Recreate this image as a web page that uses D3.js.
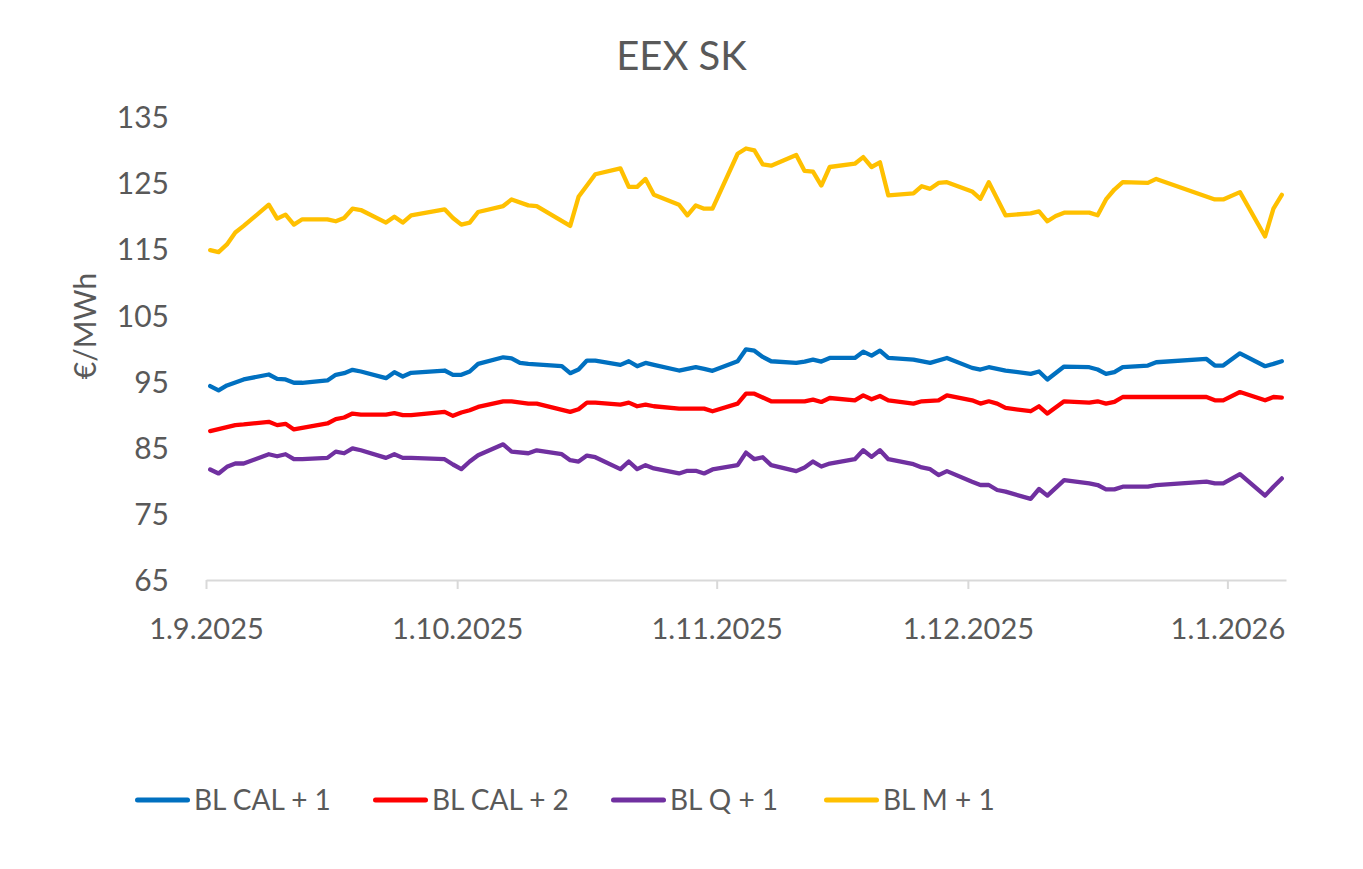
<!DOCTYPE html>
<html>
<head>
<meta charset="utf-8">
<script src="https://cdn.jsdelivr.net/npm/d3@7"></script>
<style>
  html, body { margin: 0; padding: 0; background: #fff; }
  svg text { font-family: Lato, "Open Sans", sans-serif; fill: #595959; }
</style>
</head>
<body>
<svg id="chart" width="1363" height="869"></svg>
<script>
const title = "EEX SK";
const yTitle = "€/MWh";
const yTicks = [65, 75, 85, 95, 105, 115, 125, 135];
const xTickDates = ["2025-09-01", "2025-10-01", "2025-11-01", "2025-12-01", "2026-01-01"];
const xDomain = ["2025-09-01", "2026-01-08"];
const seriesNames = ["BL CAL + 1", "BL CAL + 2", "BL Q + 1", "BL M + 1"];
const seriesColors = ["#0070C0", "#FF0000", "#7030A0", "#FFC000"];

const blCal1 = [
  ["2025-09-01",94.3],["2025-09-02",93.65],["2025-09-03",94.4],["2025-09-05",95.3],
  ["2025-09-08",96.05],["2025-09-09",95.4],["2025-09-10",95.3],["2025-09-11",94.8],["2025-09-12",94.8],
  ["2025-09-15",95.15],["2025-09-16",96.0],["2025-09-17",96.25],["2025-09-18",96.75],["2025-09-19",96.5],
  ["2025-09-22",95.5],["2025-09-23",96.4],["2025-09-24",95.75],["2025-09-25",96.3],
  ["2025-09-29",96.65],["2025-09-30",96.0],["2025-10-01",96.0],["2025-10-02",96.5],["2025-10-03",97.65],
  ["2025-10-06",98.65],["2025-10-07",98.5],["2025-10-08",97.8],["2025-10-09",97.65],
  ["2025-10-13",97.3],["2025-10-14",96.25],["2025-10-15",96.8],["2025-10-16",98.15],["2025-10-17",98.15],
  ["2025-10-20",97.5],["2025-10-21",98.05],["2025-10-22",97.3],["2025-10-23",97.8],["2025-10-24",97.5],
  ["2025-10-27",96.65],["2025-10-29",97.15],["2025-10-30",96.9],["2025-10-31",96.6],
  ["2025-11-03",98.05],["2025-11-04",99.85],["2025-11-05",99.65],["2025-11-06",98.7],["2025-11-07",98.05],
  ["2025-11-10",97.8],["2025-11-11",98.0],["2025-11-12",98.3],["2025-11-13",98.0],["2025-11-14",98.55],
  ["2025-11-17",98.55],["2025-11-18",99.5],["2025-11-19",98.9],["2025-11-20",99.65],["2025-11-21",98.55],
  ["2025-11-24",98.3],["2025-11-26",97.8],["2025-11-28",98.55],
  ["2025-12-01",97.05],["2025-12-02",96.8],["2025-12-03",97.15],["2025-12-05",96.65],
  ["2025-12-08",96.15],["2025-12-09",96.5],["2025-12-10",95.3],["2025-12-12",97.25],
  ["2025-12-15",97.15],["2025-12-16",96.8],["2025-12-17",96.15],["2025-12-18",96.4],["2025-12-19",97.15],
  ["2025-12-22",97.4],["2025-12-23",97.9],["2025-12-29",98.4],["2025-12-30",97.4],["2025-12-31",97.4],
  ["2026-01-02",99.25],["2026-01-05",97.3],["2026-01-06",97.65],["2026-01-07",98.05]
];

const blCal2 = [
  ["2025-09-01",87.5],["2025-09-04",88.4],["2025-09-05",88.5],
  ["2025-09-08",88.9],["2025-09-09",88.4],["2025-09-10",88.6],["2025-09-11",87.75],
  ["2025-09-15",88.65],["2025-09-16",89.3],["2025-09-17",89.55],["2025-09-18",90.15],["2025-09-19",90.0],
  ["2025-09-22",90.0],["2025-09-23",90.2],["2025-09-24",89.9],["2025-09-25",89.9],
  ["2025-09-29",90.4],["2025-09-30",89.8],["2025-10-01",90.3],["2025-10-02",90.65],["2025-10-03",91.15],
  ["2025-10-06",92.0],["2025-10-07",92.0],["2025-10-09",91.65],["2025-10-10",91.65],
  ["2025-10-14",90.4],["2025-10-15",90.8],["2025-10-16",91.8],["2025-10-17",91.8],
  ["2025-10-20",91.5],["2025-10-21",91.8],["2025-10-22",91.25],["2025-10-23",91.5],["2025-10-24",91.25],
  ["2025-10-27",90.9],["2025-10-30",90.9],["2025-10-31",90.5],
  ["2025-11-03",91.65],["2025-11-04",93.15],["2025-11-05",93.15],["2025-11-07",92.0],
  ["2025-11-11",92.0],["2025-11-12",92.25],["2025-11-13",91.9],["2025-11-14",92.5],
  ["2025-11-17",92.15],["2025-11-18",92.9],["2025-11-19",92.3],["2025-11-20",92.8],["2025-11-21",92.15],
  ["2025-11-24",91.65],["2025-11-25",92.0],["2025-11-27",92.15],["2025-11-28",92.9],
  ["2025-12-01",92.15],["2025-12-02",91.65],["2025-12-03",92.0],["2025-12-04",91.65],["2025-12-05",91.0],
  ["2025-12-08",90.5],["2025-12-09",91.25],["2025-12-10",90.15],["2025-12-12",92.0],
  ["2025-12-15",91.8],["2025-12-16",92.0],["2025-12-17",91.65],["2025-12-18",91.9],["2025-12-19",92.65],
  ["2025-12-29",92.65],["2025-12-30",92.15],["2025-12-31",92.15],
  ["2026-01-02",93.4],["2026-01-05",92.15],["2026-01-06",92.65],["2026-01-07",92.55]
];

const blQ1 = [
  ["2025-09-01",81.7],["2025-09-02",81.1],["2025-09-03",82.1],["2025-09-04",82.6],["2025-09-05",82.6],
  ["2025-09-08",84.0],["2025-09-09",83.7],["2025-09-10",84.0],["2025-09-11",83.25],["2025-09-12",83.25],
  ["2025-09-15",83.45],["2025-09-16",84.4],["2025-09-17",84.15],["2025-09-18",84.9],["2025-09-19",84.6],
  ["2025-09-22",83.45],["2025-09-23",84.0],["2025-09-24",83.45],["2025-09-25",83.45],
  ["2025-09-29",83.25],["2025-09-30",82.45],["2025-10-01",81.75],["2025-10-02",82.9],["2025-10-03",83.85],
  ["2025-10-06",85.5],["2025-10-07",84.4],["2025-10-09",84.15],["2025-10-10",84.6],
  ["2025-10-13",84.0],["2025-10-14",83.1],["2025-10-15",82.9],["2025-10-16",83.8],["2025-10-17",83.55],
  ["2025-10-20",81.75],["2025-10-21",82.9],["2025-10-22",81.75],["2025-10-23",82.35],["2025-10-24",81.85],
  ["2025-10-27",81.1],["2025-10-28",81.5],["2025-10-29",81.5],["2025-10-30",81.1],["2025-10-31",81.7],
  ["2025-11-03",82.35],["2025-11-04",84.25],["2025-11-05",83.25],["2025-11-06",83.55],["2025-11-07",82.35],
  ["2025-11-10",81.45],["2025-11-11",82.0],["2025-11-12",82.9],["2025-11-13",82.15],["2025-11-14",82.6],
  ["2025-11-17",83.25],["2025-11-18",84.6],["2025-11-19",83.6],["2025-11-20",84.6],["2025-11-21",83.25],
  ["2025-11-24",82.5],["2025-11-25",82.0],["2025-11-26",81.75],["2025-11-27",80.85],["2025-11-28",81.45],
  ["2025-12-01",79.85],["2025-12-02",79.35],["2025-12-03",79.35],["2025-12-04",78.6],["2025-12-05",78.35],
  ["2025-12-08",77.25],["2025-12-09",78.75],["2025-12-10",77.75],["2025-12-12",80.1],
  ["2025-12-15",79.6],["2025-12-16",79.35],["2025-12-17",78.7],["2025-12-18",78.7],["2025-12-19",79.1],
  ["2025-12-22",79.1],["2025-12-23",79.35],["2025-12-29",79.85],["2025-12-30",79.6],["2025-12-31",79.6],
  ["2026-01-02",81.0],["2026-01-05",77.75],["2026-01-06",79.1],["2026-01-07",80.35]
];

const blM1 = [
  ["2025-09-01",114.85],["2025-09-02",114.55],["2025-09-03",115.7],["2025-09-04",117.5],["2025-09-05",118.5],
  ["2025-09-08",121.7],["2025-09-09",119.6],["2025-09-10",120.2],["2025-09-11",118.7],["2025-09-12",119.5],
  ["2025-09-15",119.5],["2025-09-16",119.2],["2025-09-17",119.7],["2025-09-18",121.1],["2025-09-19",120.9],
  ["2025-09-22",119.0],["2025-09-23",119.9],["2025-09-24",119.0],["2025-09-25",120.1],
  ["2025-09-29",121.0],["2025-09-30",119.7],["2025-10-01",118.7],["2025-10-02",119.0],["2025-10-03",120.6],
  ["2025-10-06",121.5],["2025-10-07",122.5],["2025-10-09",121.6],["2025-10-10",121.5],
  ["2025-10-14",118.5],["2025-10-15",122.9],["2025-10-17",126.3],
  ["2025-10-20",127.2],["2025-10-21",124.4],["2025-10-22",124.4],["2025-10-23",125.6],["2025-10-24",123.2],
  ["2025-10-27",121.7],["2025-10-28",120.1],["2025-10-29",121.6],["2025-10-30",121.1],["2025-10-31",121.1],
  ["2025-11-03",129.4],["2025-11-04",130.2],["2025-11-05",129.9],["2025-11-06",127.8],["2025-11-07",127.6],
  ["2025-11-10",129.2],["2025-11-11",126.8],["2025-11-12",126.7],["2025-11-13",124.6],["2025-11-14",127.4],
  ["2025-11-17",127.9],["2025-11-18",128.9],["2025-11-19",127.4],["2025-11-20",128.1],["2025-11-21",123.1],
  ["2025-11-24",123.4],["2025-11-25",124.5],["2025-11-26",124.1],["2025-11-27",125.0],["2025-11-28",125.1],
  ["2025-12-01",123.7],["2025-12-02",122.6],["2025-12-03",125.1],["2025-12-05",120.1],
  ["2025-12-08",120.4],["2025-12-09",120.7],["2025-12-10",119.2],["2025-12-11",120.0],["2025-12-12",120.5],
  ["2025-12-15",120.5],["2025-12-16",120.1],["2025-12-17",122.5],["2025-12-18",124.0],["2025-12-19",125.1],
  ["2025-12-22",125.0],["2025-12-23",125.6],["2025-12-30",122.5],["2025-12-31",122.5],
  ["2026-01-02",123.6],["2026-01-05",116.9],["2026-01-06",121.1],["2026-01-07",123.2]
];

const seriesData = [blCal1, blCal2, blQ1, blM1];

const parse = d3.utcParse("%Y-%m-%d");
const HALF_DAY = 12 * 3600 * 1000;

const svg = d3.select("#chart");

const x = d3.scaleUtc()
  .domain(xDomain.map(parse))
  .range([206, 1286]);

const y = d3.scaleLinear()
  .domain([65, 135])
  .range([580, 116.7]);

// title
svg.append("text")
  .attr("x", 681.5)
  .attr("y", 70)
  .attr("text-anchor", "middle")
  .style("font-size", "40px")
  .text(title);

// y axis (labels only)
const yAxis = d3.axisLeft(y).tickValues(yTicks).tickSize(0).tickPadding(0);
const yg = svg.append("g").attr("transform", "translate(169,0)").call(yAxis);
yg.select(".domain").remove();
yg.selectAll("text")
  .attr("x", 0)
  .attr("dy", "0.36em")
  .style("font-size", "30px")
  .style("font-family", "Lato, sans-serif")
  .attr("fill", "#595959");

// y title
svg.append("text")
  .attr("transform", "translate(96,326) rotate(-90)")
  .attr("text-anchor", "middle")
  .style("font-size", "30px")
  .text(yTitle);

// x axis
const xAxis = d3.axisBottom(x)
  .tickValues(xTickDates.map(parse))
  .tickSize(9)
  .tickSizeOuter(0)
  .tickPadding(0)
  .tickFormat(d3.utcFormat("%-d.%-m.%Y"));
const xg = svg.append("g").attr("transform", "translate(0,580)").call(xAxis);
xg.select(".domain").attr("stroke", "#D9D9D9").attr("stroke-width", 2);
xg.selectAll(".tick line").attr("stroke", "#D9D9D9").attr("stroke-width", 2);
xg.selectAll(".tick text")
  .attr("y", 59)
  .attr("dy", 0)
  .style("font-size", "29px")
  .style("font-family", "Lato, sans-serif")
  .attr("fill", "#595959");

// lines
const line = d3.line()
  .x(d => x(new Date(parse(d[0]).getTime() + HALF_DAY)))
  .y(d => y(d[1]));

seriesData.forEach((data, i) => {
  svg.append("path")
    .datum(data)
    .attr("fill", "none")
    .attr("stroke", seriesColors[i])
    .attr("stroke-width", 4.3)
    .attr("stroke-linejoin", "round")
    .attr("stroke-linecap", "round")
    .attr("d", line);
});

// legend
const legendStarts = [135, 373, 611, 824];
const ly = 800;
const legend = svg.append("g");
seriesNames.forEach((name, i) => {
  const lx = legendStarts[i];
  legend.append("line")
    .attr("x1", lx + 2.5).attr("x2", lx + 52.5)
    .attr("y1", ly).attr("y2", ly)
    .attr("stroke", seriesColors[i])
    .attr("stroke-width", 5)
    .attr("stroke-linecap", "round");
  legend.append("text")
    .attr("x", lx + 59)
    .attr("y", ly + 10)
    .style("font-size", "28px")
    .text(name);
});
</script>
</body>
</html>
